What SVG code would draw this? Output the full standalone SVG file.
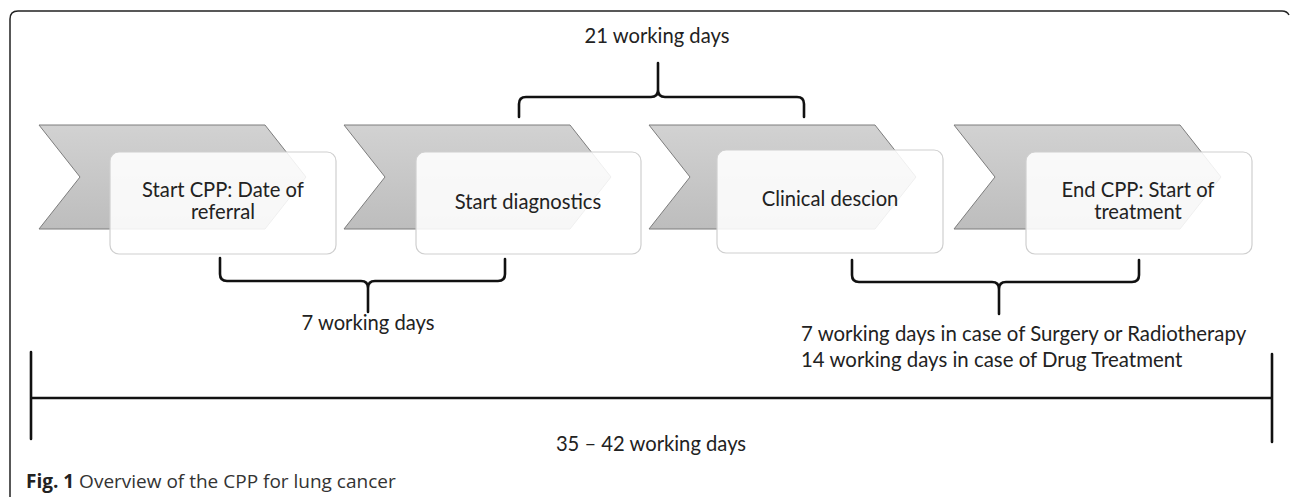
<svg xmlns="http://www.w3.org/2000/svg" width="1290" height="497" viewBox="0 0 1290 497">
<defs>
<linearGradient id="chev" x1="0" y1="0" x2="0" y2="1">
<stop offset="0" stop-color="#d2d2d2"/>
<stop offset="1" stop-color="#bdbdbd"/>
</linearGradient>
<polygon id="chevShape" points="0,0 226,0 267,52 226,104 0,104 41,52"/>
</defs>
<style>
.chev{fill:url(#chev);stroke:#7d7d7d;stroke-width:1}
.box{fill:#ffffff;fill-opacity:0.88;stroke:#cfcfcf;stroke-width:1.2}
.lbl{font-family:Lato,"Open Sans",sans-serif;font-size:20.2px;fill:#222;text-anchor:middle}
.note{font-family:Lato,"Open Sans",sans-serif;font-size:20.4px;fill:#222}
.br{fill:none;stroke:#111;stroke-width:2.6;stroke-linecap:round;stroke-linejoin:round}
.cap{font-family:"Open Sans","Noto Sans",sans-serif;font-size:19px;fill:#333}
</style>
<rect width="1290" height="497" fill="#ffffff"/>
<path d="M10,497 V19 Q10,11 18,11 H1282 Q1287,11 1289,15" fill="none" stroke="#222" stroke-width="1.5"/>

<g id="step1">
<use href="#chevShape" class="chev" x="39" y="125"/>
<rect class="box" x="110" y="152" width="226" height="102" rx="9"/>
<text class="lbl" x="223" y="197">Start CPP: Date of</text>
<text class="lbl" x="223" y="219">referral</text>
</g>
<g id="step2">
<use href="#chevShape" class="chev" x="344" y="125"/>
<rect class="box" x="416" y="152" width="225" height="102" rx="9"/>
<text class="lbl" x="528" y="209">Start diagnostics</text>
</g>
<g id="step3">
<use href="#chevShape" class="chev" x="649" y="125"/>
<rect class="box" x="717" y="150" width="226" height="103" rx="9"/>
<text class="lbl" x="830" y="206">Clinical descion</text>
</g>
<g id="step4">
<use href="#chevShape" class="chev" x="954" y="125"/>
<rect class="box" x="1026" y="152" width="226" height="102" rx="9"/>
<text class="lbl" x="1138" y="197">End CPP: Start of</text>
<text class="lbl" x="1138" y="219">treatment</text>
</g>

<g id="connectors">
<path class="br" d="M519,117 V104 Q519,97 526,97 H651 Q658,97 658,90 V63 M658,90 Q658,97 665,97 H797 Q804,97 804,104 V117"/>
<path class="br" d="M220,258 V274 Q220,281 227,281 H361 Q368,281 368,288 V312 M368,288 Q368,281 375,281 H498 Q505,281 505,274 V259"/>
<path class="br" d="M852,260 V275 Q852,282 859,282 H992 Q999,282 999,289 V314 M999,289 Q999,282 1006,282 H1132 Q1139,282 1139,275 V260"/>
<path class="br" d="M31,352 V439 M31,398 H1272 M1272,354 V442"/>
</g>

<g id="labels">
<text class="lbl" x="657" y="43">21 working days</text>
<text class="lbl" x="368" y="330">7 working days</text>
<text class="note" x="801" y="341">7 working days in case of Surgery or Radiotherapy</text>
<text class="note" x="801" y="367">14 working days in case of Drug Treatment</text>
<text class="lbl" x="651" y="451">35 – 42 working days</text>
</g>

<text class="cap" x="26" y="488"><tspan font-weight="bold" fill="#222">Fig. 1</tspan> Overview of the CPP for lung cancer</text>
</svg>
